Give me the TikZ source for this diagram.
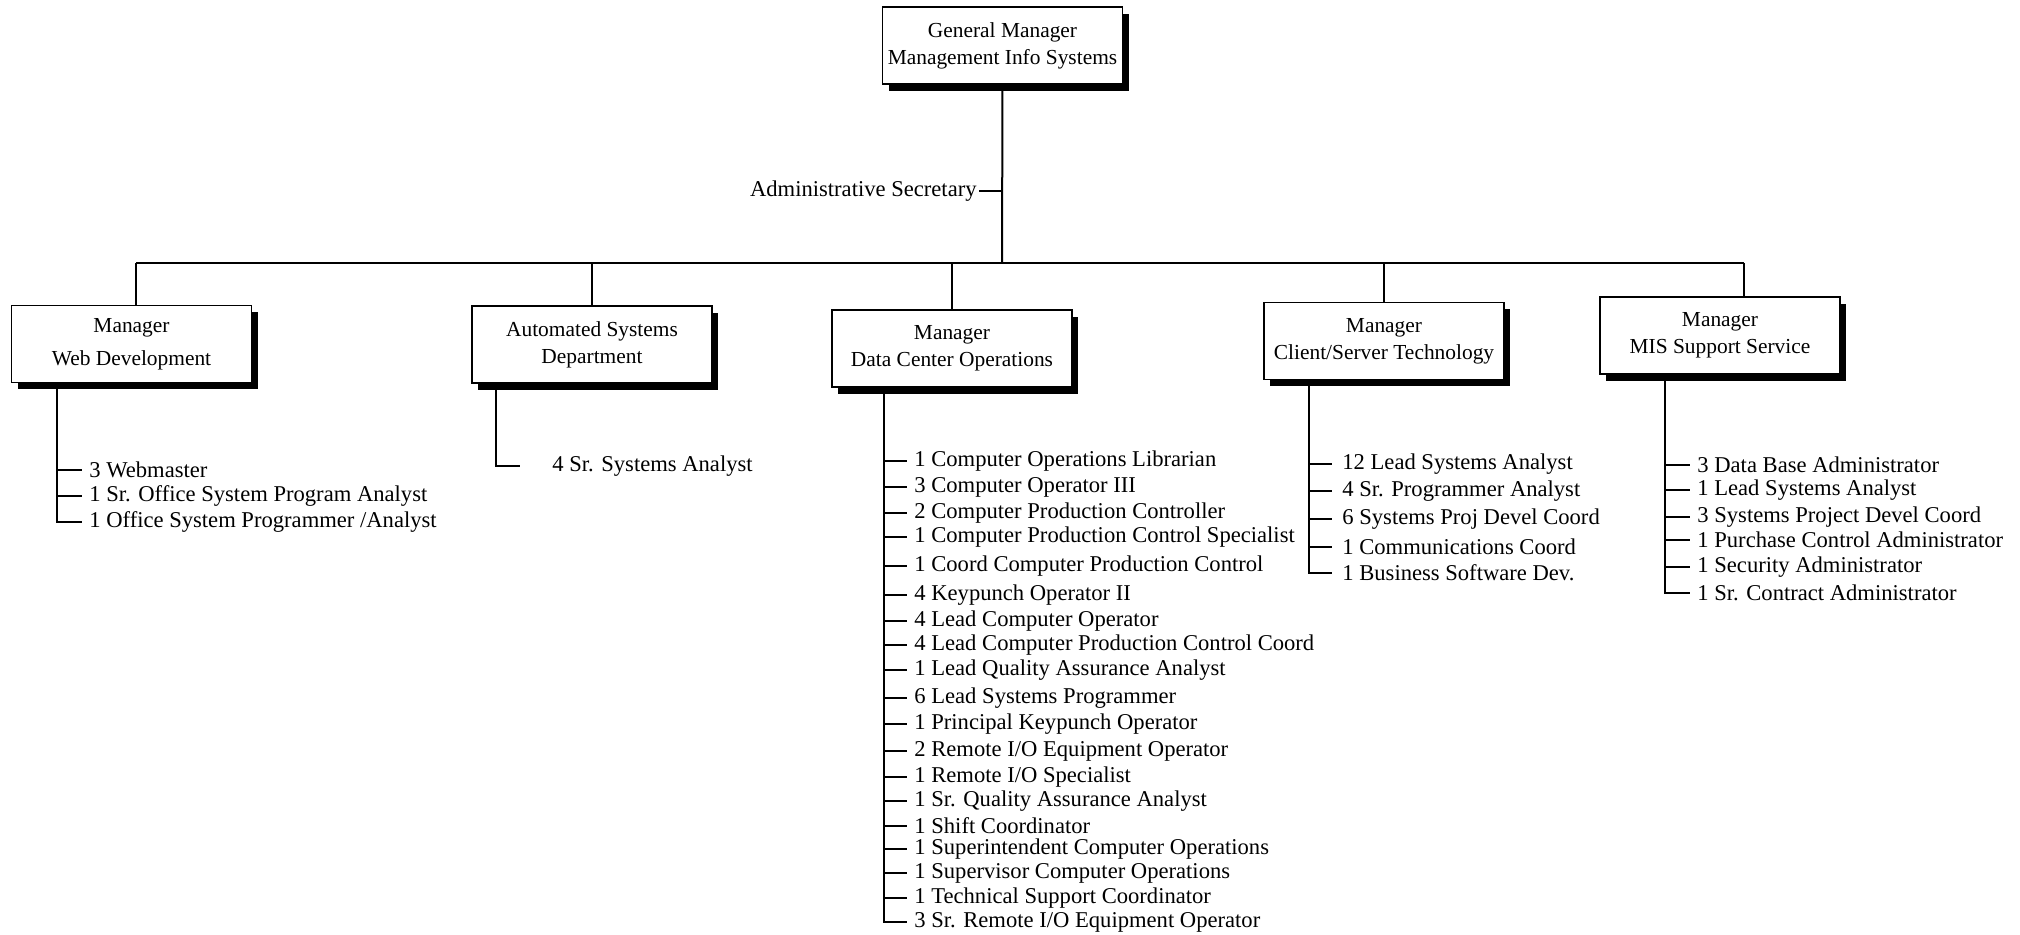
\documentclass[tikz,border=0pt]{standalone}
\usepackage{fontspec}
\setmainfont{Liberation Serif}
\usetikzlibrary{shadows}
\tikzset{
  unit box/.style={rectangle, draw, line width=0.9pt, fill=white,
    minimum width=120pt, minimum height=38.5pt, inner sep=0pt, align=center,
    font=\fontsize{10.7}{13.5}\selectfont,
    drop shadow={shadow xshift=3.2pt, shadow yshift=-3.5pt, fill=black, opacity=1}},
  job/.style={anchor=west, inner xsep=3.5pt, inner ysep=0pt,
    font=\fontsize{11.3}{13}\selectfont},
  link/.style={line width=1pt}
}

\begin{document}
\begin{tikzpicture}[x=0.5pt, y=-0.5pt]
\useasboundingbox (0,0) rectangle (2020,935);

% boxes
\node[unit box] (gm)  at (1002.5,45.5) {General Manager\\Management Info Systems};
\node[unit box] (web) at (131.5,344)   {Manager\\[3pt]Web Development};
\node[unit box] (asd) at (592,344.5)   {Automated Systems\\Department};
\node[unit box] (dco) at (952,348.5)   {Manager\\Data Center Operations};
\node[unit box] (cst) at (1384,341)    {Manager\\Client/Server Technology};
\node[unit box] (mis) at (1720,335.5)  {Manager\\MIS Support Service};

% bus
\coordinate (hub) at (1002,263);
\coordinate (b1) at (136,263);
\coordinate (b2) at (592,263);
\coordinate (b3) at (952,263);
\coordinate (b4) at (1384,263);
\coordinate (b5) at (1744,263);
\draw[link] (gm.south) -- (hub);
\draw[link] (b1) -- (b5);
\draw[link] (b1) -- (b1 |- web.north);
\draw[link] (b2) -- (b2 |- asd.north);
\draw[link] (b3) -- (b3 |- dco.north);
\draw[link] (b4) -- (b4 |- cst.north);
\draw[link] (b5) -- (b5 |- mis.north);

\node[job, anchor=east, inner xsep=1pt] (sec) at (979,191) {Administrative Secretary};
\draw[link] (sec.east) -- (sec.east -| hub);

% staff lists
\coordinate (web-s) at (57,0);
\foreach [count=\i] \y/\t in {470/{3 Webmaster}, 496/{1 Sr. Office System Program Analyst},
    522/{1 Office System Programmer /Analyst}}{
  \node[job] (web-\i) at (82,\y) {\t};
  \draw[link] (web-\i.west -| web-s) -- (web-\i.west);
}
\draw[link] (web.south -| web-s) |- (web-3.west);

\coordinate (asd-s) at (496,0);
\node[job, inner xsep=16pt] (asd-1) at (520,466) {4 Sr. Systems Analyst};
\draw[link] (asd.south -| asd-s) |- (asd-1.west);

\coordinate (dco-s) at (884,0);
\foreach [count=\i] \y/\t in {461/{1 Computer Operations Librarian}, 487/{3 Computer Operator III},
    513/{2 Computer Production Controller}, 537/{1 Computer Production Control Specialist},
    566/{1 Coord Computer Production Control}, 595/{4 Keypunch Operator II},
    621/{4 Lead Computer Operator}, 645/{4 Lead Computer Production Control Coord},
    670/{1 Lead Quality Assurance Analyst}, 698/{6 Lead Systems Programmer},
    724/{1 Principal Keypunch Operator}, 751/{2 Remote I/O Equipment Operator},
    777/{1 Remote I/O Specialist}, 801/{1 Sr. Quality Assurance Analyst},
    826/{1 Shift Coordinator}, 849/{1 Superintendent Computer Operations},
    873/{1 Supervisor Computer Operations}, 898/{1 Technical Support Coordinator},
    922/{3 Sr. Remote I/O Equipment Operator}}{
  \node[job] (dco-\i) at (907,\y) {\t};
  \draw[link] (dco-\i.west -| dco-s) -- (dco-\i.west);
}
\draw[link] (dco.south -| dco-s) |- (dco-19.west);

\coordinate (cst-s) at (1309,0);
\foreach [count=\i] \y/\t in {464/{12 Lead Systems Analyst}, 491/{4 Sr. Programmer Analyst},
    519/{6 Systems Proj Devel Coord}, 547/{1 Communications Coord},
    573/{1 Business Software Dev.}}{
  \node[job, inner xsep=5pt] (cst-\i) at (1332,\y) {\t};
  \draw[link] (cst-\i.west -| cst-s) -- (cst-\i.west);
}
\draw[link] (cst.south -| cst-s) |- (cst-5.west);

\coordinate (mis-s) at (1665,0);
\foreach [count=\i] \y/\t in {465/{3 Data Base Administrator}, 490/{1 Lead Systems Analyst},
    517/{3 Systems Project Devel Coord}, 540/{1 Purchase Control Administrator},
    567/{1 Security Administrator}, 593/{1 Sr. Contract Administrator}}{
  \node[job] (mis-\i) at (1690,\y) {\t};
  \draw[link] (mis-\i.west -| mis-s) -- (mis-\i.west);
}
\draw[link] (mis.south -| mis-s) |- (mis-6.west);
\end{tikzpicture}
\end{document}
